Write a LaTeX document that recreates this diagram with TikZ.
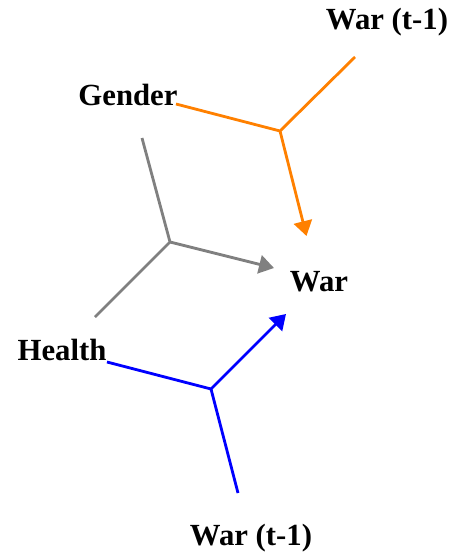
\documentclass[tikz,border=0pt]{standalone}
\usepackage{fontspec}
\setmainfont{Liberation Serif}
\usetikzlibrary{positioning,arrows.meta,calc}
\definecolor{warorange}{RGB}{255,128,0}
\begin{document}
\begin{tikzpicture}[x=0.02cm, y=-0.02cm,
  lbl/.style={font=\fontsize{17.5}{20}\selectfont\bfseries, inner sep=0pt},
  hyp/.style={line width=1.6pt},
  arr/.style={hyp, -{Triangle[length=8.5pt, width=10.5pt]}}]
\useasboundingbox (0,0) rectangle (463,554);
% variables
\node[lbl] (gender) at (128,95) {Gender};
\node[lbl] (warprevA) at (387,22) {War (t-1)};
\node[lbl] (war) at (319,282) {War};
\node[lbl] (health) at (62,350) {Health};
\node[lbl] (warprevB) at (251,538) {War (t-1)};
% junctions and free ends
\coordinate (jo) at (280,131);
\coordinate (jg) at (170,242);
\coordinate (jb) at (211,389);
\coordinate (o1) at (176,104);
\coordinate (o2) at (355,57);
\coordinate (g1) at (142,138);
\coordinate (g2) at (95,317);
\coordinate (b1) at (107,362);
\coordinate (b2) at (238,493);
% hyperedges
\draw[hyp, warorange] (o1) -- (jo) -- (o2);
\draw[arr, warorange] (jo) -- (306.5,236);
\draw[hyp, gray] (g1) -- (jg) -- (g2);
\draw[arr, gray] (jg) -- (274,268);
\draw[hyp, blue] (b1) -- (jb) -- (b2);
\draw[arr, blue] (jb) -- (286,314);
\end{tikzpicture}
\end{document}
